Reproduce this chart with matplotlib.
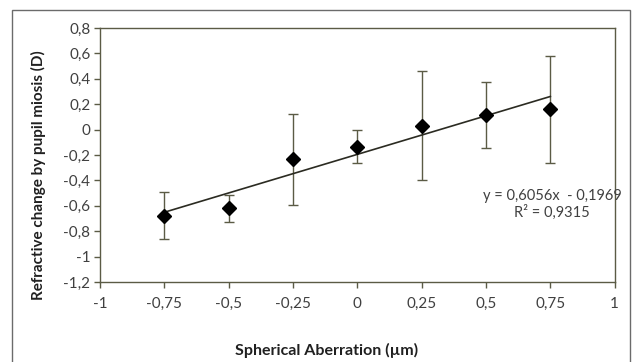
import matplotlib
matplotlib.use("Agg")
import matplotlib.pyplot as plt
from matplotlib.patches import Rectangle
import numpy as np

plt.rcParams['font.family'] = ['Lato', 'DejaVu Sans']

sa = [-0.75, -0.5, -0.25, 0.0, 0.25, 0.5, 0.75]
refr = [-0.68, -0.62, -0.235, -0.135, 0.03, 0.115, 0.16]
err = [0.185, 0.105, 0.36, 0.13, 0.43, 0.257, 0.42]
xticks = [-1, -0.75, -0.5, -0.25, 0, 0.25, 0.5, 0.75, 1]
xticklabels = ['-1', '-0,75', '-0,5', '-0,25', '0', '0,25', '0,5', '0,75', '1']
yticks = [-1.2, -1.0, -0.8, -0.6, -0.4, -0.2, 0, 0.2, 0.4, 0.6, 0.8]
yticklabels = ['-1,2', '-1', '-0,8', '-0,6', '-0,4', '-0,2', '0', '0,2', '0,4', '0,6', '0,8']
eq_text = 'y = 0,6056x  - 0,1969\nR² = 0,9315'

fig = plt.figure(figsize=(6.36, 3.62), dpi=100)
fig.patches.append(Rectangle((12/636, -0.05), (630-12)/636, 1 - 10/362 + 0.05,
                             transform=fig.transFigure, fill=False,
                             edgecolor='#6b6b6b', linewidth=1.0))
ax = fig.add_axes([100/636, 1-282/362, (614.7-100)/636, (282-28)/362])

axc = '#5b5b45'
txtc = '#404040'
ax.errorbar(sa, refr, yerr=err, fmt='none', ecolor=axc, elinewidth=1.0,
            capsize=3.5, capthick=1.0, zorder=2)
ax.plot(sa, refr, linestyle='none', marker='D', markersize=7.5,
        color='black', zorder=4)
coef = np.polyfit(sa, refr, 1)
xs = np.array([min(sa), max(sa)])
ax.plot(xs, np.polyval(coef, xs), color='#2b2b22', linewidth=1.2, zorder=3)

ax.set_xlim(-1, 1)
ax.set_ylim(-1.2, 0.8)
ax.set_xticks(xticks)
ax.set_xticklabels(xticklabels)
ax.set_yticks(yticks)
ax.set_yticklabels(yticklabels)
for s in ax.spines.values():
    s.set_color(axc)
    s.set_linewidth(1.0)
ax.tick_params(axis='both', colors=axc, labelcolor=txtc, labelsize=11,
               length=4, width=1.0, direction='out')
ax.tick_params(axis='x', pad=7)
ax.tick_params(axis='y', pad=3)

fig.text(552/636, 1-204/362, eq_text, ha='center', va='center',
         fontsize=10.5, color=txtc, linespacing=1.15)

fig.text(327/636, 1-350/362, 'Spherical Aberration (µm)', ha='center', va='center',
         fontsize=11.5, fontweight='bold', color='#202020')
fig.text(38/636, 1-175/362, 'Refractive change by pupil miosis (D)', ha='center',
         va='center', rotation=90, fontsize=11, fontweight='bold', color='#202020')

fig.savefig('out.png', dpi=100)
